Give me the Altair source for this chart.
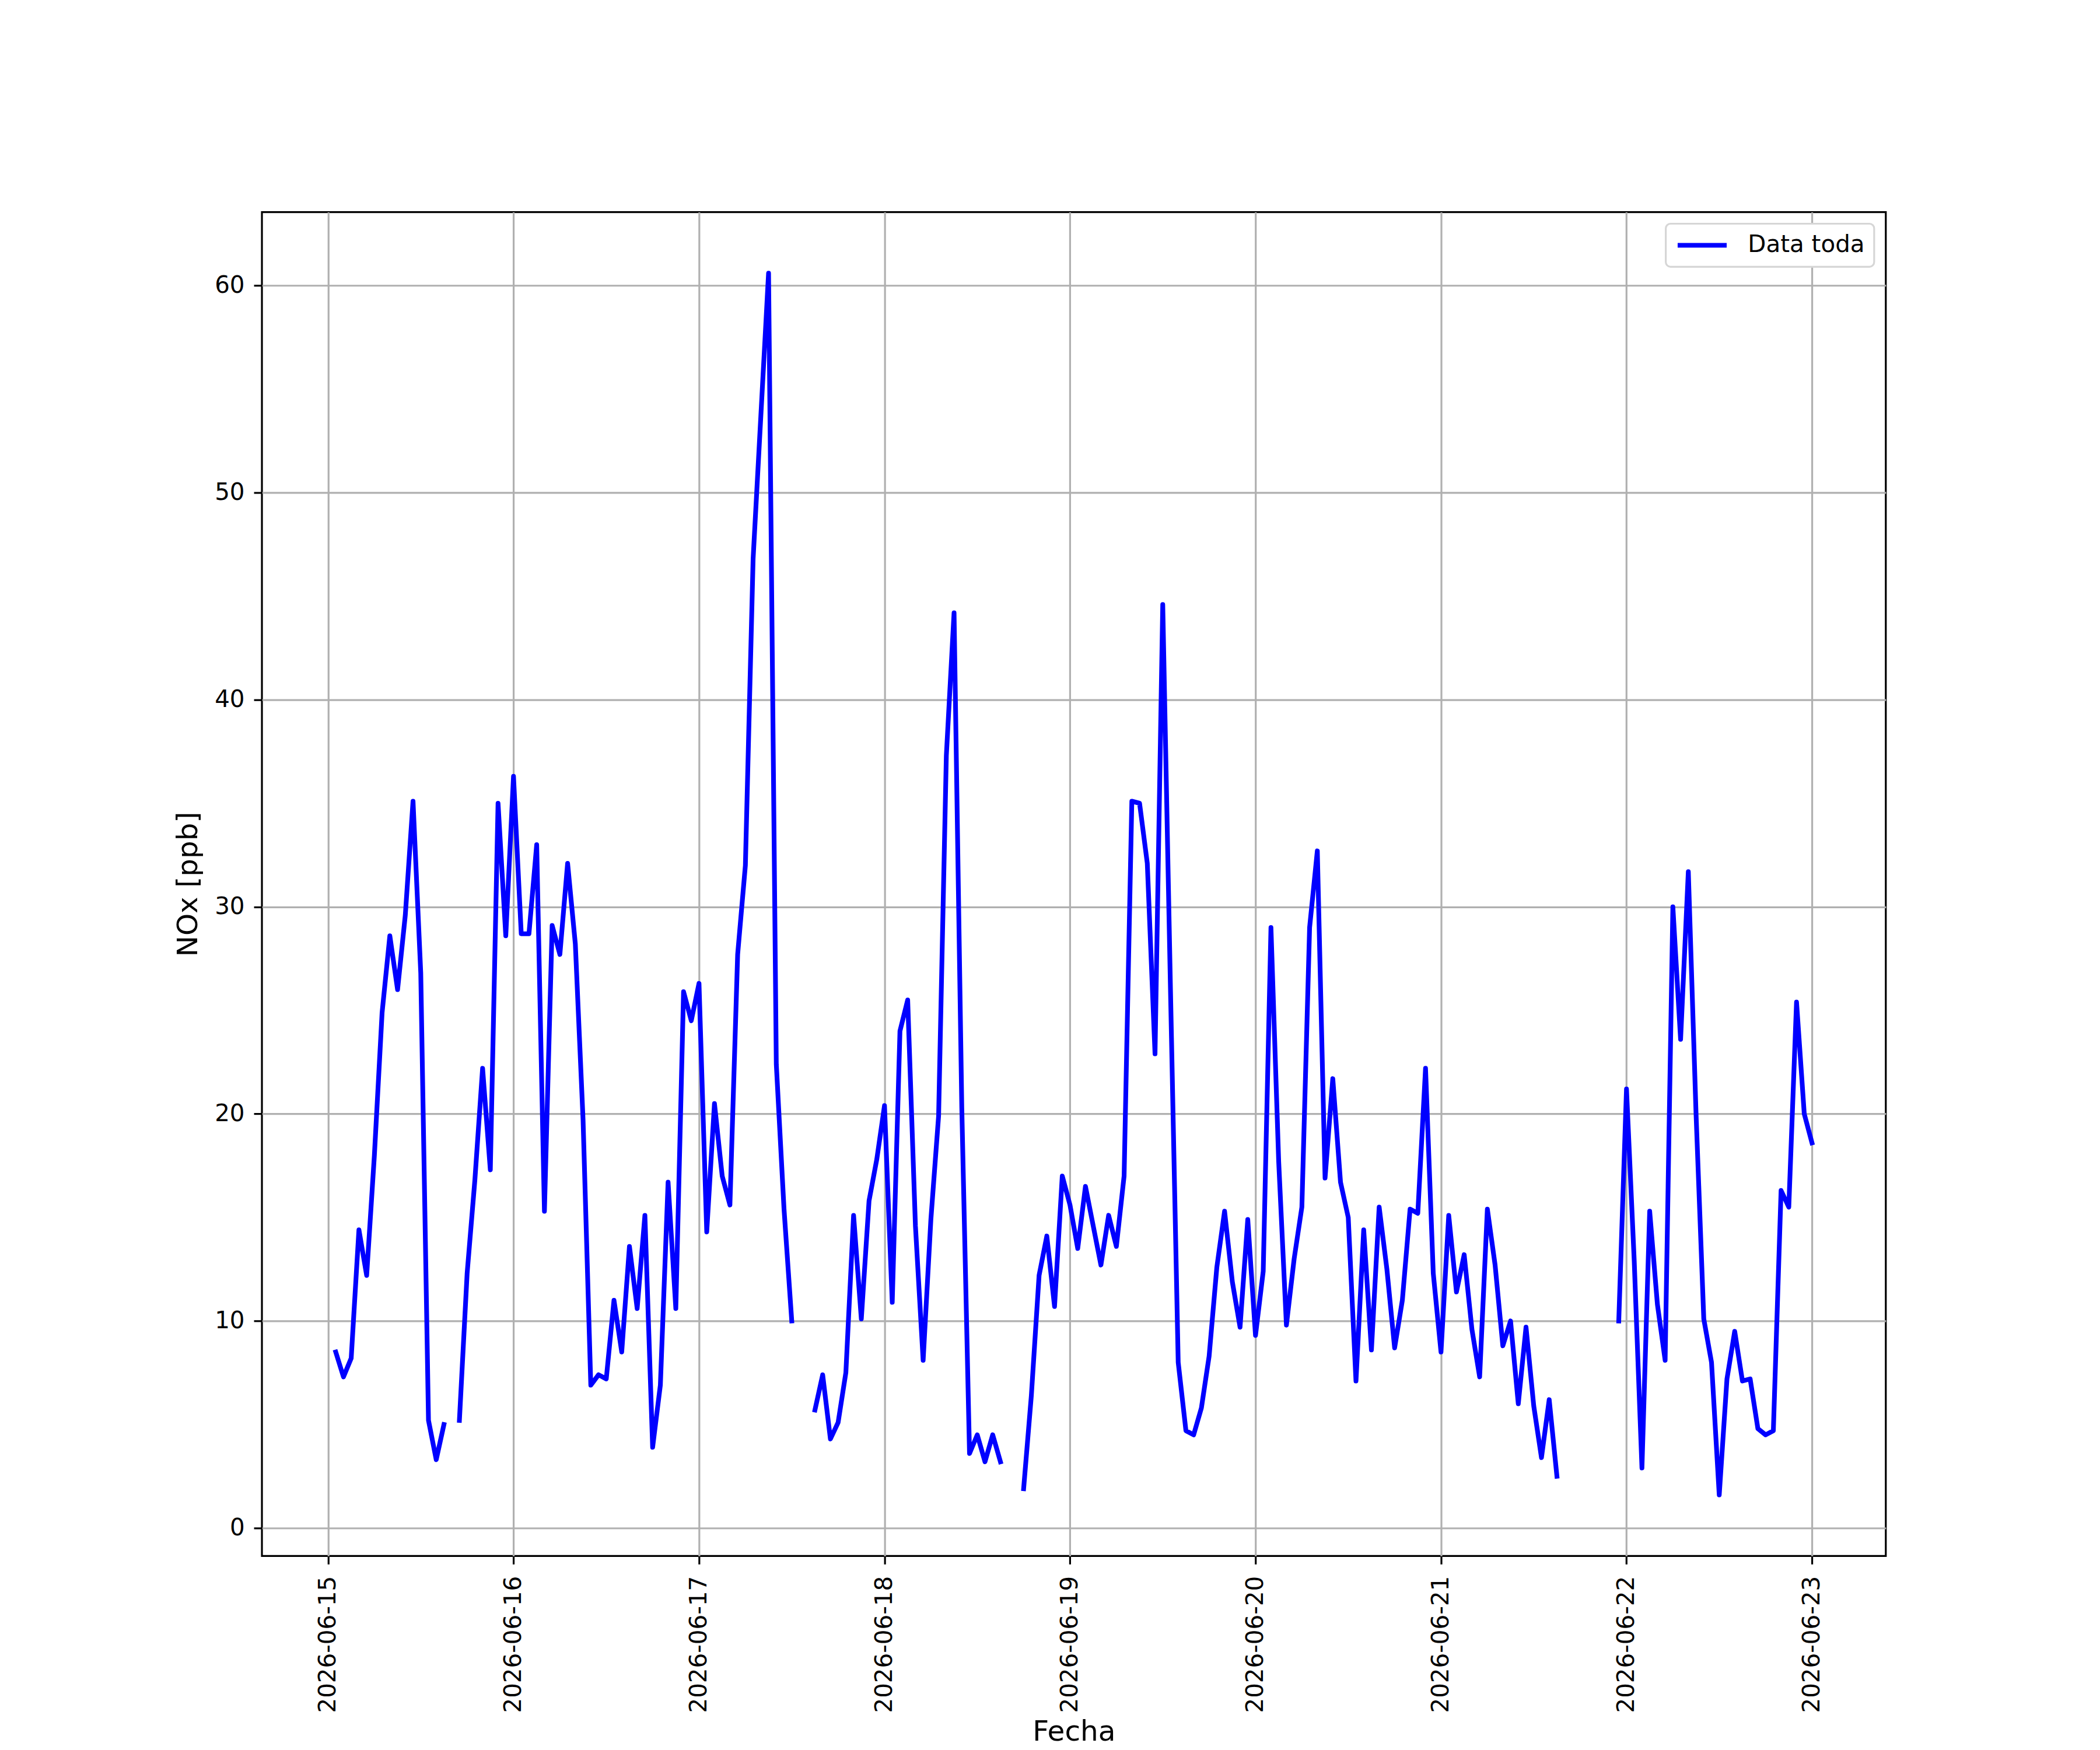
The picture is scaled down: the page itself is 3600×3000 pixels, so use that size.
import altair as alt
import pandas as pd

# Hourly NOx values (ppb); None = missing hour. Each list: 01:00 .. 24:00 of that day
dia_15 = [8.5, 7.3, 8.2, 14.4, 12.2, 18.0, 24.9, 28.6, 26.0, 29.6, 35.1, 26.8,
          5.2, 3.3, 5.0, None, 5.2, 12.3, 16.8, 22.2, 17.3, 35.0, 28.6, 36.3]
dia_16 = [28.7, 28.7, 33.0, 15.3, 29.1, 27.7, 32.1, 28.2, 19.7, 6.9, 7.4, 7.2,
          11.0, 8.5, 13.6, 10.6, 15.1, 3.9, 6.9, 16.7, 10.6, 25.9, 24.5, 26.3]
dia_17 = [14.3, 20.5, 17.0, 15.6, 27.7, 32.0, 46.8, 53.7, 60.6, 22.4, 15.4, 10.0,
          None, None, 5.7, 7.4, 4.3, 5.1, 7.5, 15.1, 10.1, 15.8, 17.8, 20.4]
dia_18 = [10.9, 24.0, 25.5, 14.6, 8.1, 14.9, 19.9, 37.3, 44.2, 20.3, 3.6, 4.5,
          3.2, 4.5, 3.2, None, None, 1.9, 6.4, 12.2, 14.1, 10.7, 17.0, 15.6]
dia_19 = [13.5, 16.5, 14.6, 12.7, 15.1, 13.6, 17.0, 35.1, 35.0, 32.1, 22.9, 44.6,
          26.0, 8.0, 4.7, 4.5, 5.8, 8.3, 12.6, 15.3, 11.9, 9.7, 14.9, 9.3]
dia_20 = [12.4, 29.0, 17.7, 9.8, 13.0, 15.5, 29.0, 32.7, 16.9, 21.7, 16.7, 15.0,
          7.1, 14.4, 8.6, 15.5, 12.5, 8.7, 11.0, 15.4, 15.2, 22.2, 12.3, 8.5]
dia_21 = [15.1, 11.4, 13.2, 9.6, 7.3, 15.4, 12.7, 8.8, 10.0, 6.0, 9.7, 5.9,
          3.4, 6.2, 2.5, None, None, None, None, None, None, None, 10.0, 21.2]
dia_22 = [12.9, 2.9, 15.3, 10.8, 8.1, 30.0, 23.6, 31.7, 20.0, 10.1, 8.0, 1.6,
          7.2, 9.5, 7.1, 7.2, 4.8, 4.5, 4.7, 16.3, 15.5, 25.4, 20.0, 18.6]

valores = dia_15 + dia_16 + dia_17 + dia_18 + dia_19 + dia_20 + dia_21 + dia_22
fechas = pd.date_range("2026-06-15 01:00", periods=len(valores), freq="h")
serie = "Data toda"

df = pd.DataFrame({"Fecha": fechas, "NOx": valores, "serie": serie})

FONT = "DejaVu Sans"
TICK_FS = 40.5
TITLE_FS = 48.6

x_axis = alt.Axis(
    format="%Y-%m-%d",
    tickCount={"interval": "day", "step": 1},
    labelAngle=270, labelAlign="right", labelBaseline="middle",
    labelFont=FONT, labelFontSize=TICK_FS, labelColor="black",
    labelPadding=20, labelOverlap=False, labelFlush=False, labelLimit=0,
    tickSize=14, tickWidth=3.2, tickColor="black",
    grid=True, gridColor="#b0b0b0", gridWidth=3.2,
    domain=False,
    title="Fecha", titleFont=FONT, titleFontSize=TITLE_FS,
    titleFontWeight="normal", titleColor="black",
    titleBaseline="top", titleY=279,
)
y_axis = alt.Axis(
    values=[0, 10, 20, 30, 40, 50, 60],
    labelFont=FONT, labelFontSize=TICK_FS, labelColor="black",
    labelPadding=16, labelLimit=0,
    tickSize=14, tickWidth=3.2, tickColor="black",
    grid=True, gridColor="#b0b0b0", gridWidth=3.2,
    domain=False,
    title="NOx [ppb]", titleFont=FONT, titleFontSize=TITLE_FS,
    titleFontWeight="normal", titleColor="black", titlePadding=20,
)

chart = (
    alt.Chart(df)
    .mark_line(strokeWidth=8.1, strokeJoin="round", strokeCap="square")
    .encode(
        x=alt.X("Fecha:T", axis=x_axis,
                scale=alt.Scale(domain=[
                    alt.DateTime(year=2026, month=6, date=14, hours=15, minutes=27),
                    alt.DateTime(year=2026, month=6, date=23, hours=9, minutes=33),
                ], nice=False)),
        y=alt.Y("NOx:Q", axis=y_axis,
                scale=alt.Scale(domain=[-1.35, 63.55], nice=False, zero=False)),
        color=alt.Color("serie:N",
                        scale=alt.Scale(domain=[serie], range=["#0000ff"]),
                        legend=alt.Legend(
                            title=None, orient="none", legendX=2412, legendY=20,
                            symbolType="stroke", symbolSize=7100,
                            symbolStrokeWidth=8.1, clipHeight=42,
                            labelFont=FONT, labelFontSize=TICK_FS,
                            labelColor="black", labelOffset=32, labelLimit=0,
                            padding=16, cornerRadius=8,
                            strokeColor="#d6d6d6", fillColor="white",
                        )),
    )
    .properties(
        width=2790, height=2309,
        autosize=alt.AutoSizeParams(type="none"),
        padding={"left": 442, "top": 353, "right": 360, "bottom": 328},
        background="white",
    )
    .configure_view(stroke="black", strokeWidth=3.2)
    .configure_legend(strokeWidth=3.2)
)

chart.save("out.html", embed_options={"renderer": "svg", "actions": False})
